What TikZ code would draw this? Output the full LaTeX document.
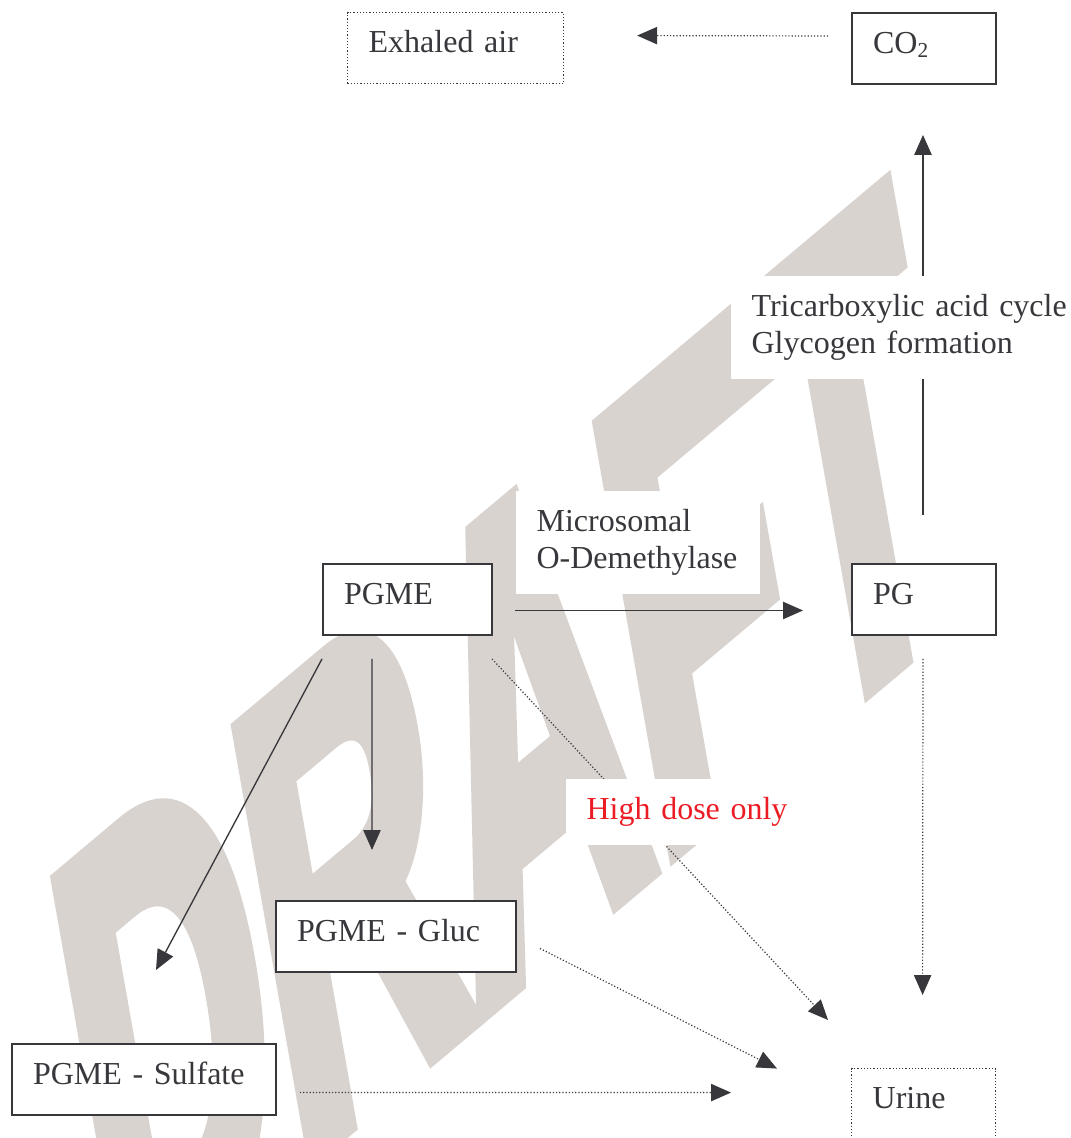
\documentclass[tikz,border=0pt]{standalone}
\usepackage{fontspec}
\setmainfont{Liberation Serif}
\newfontfamily\wmfont{Liberation Sans}[BoldFont={Liberation Sans Bold},BoldFeatures={FakeBold=5}]
\usetikzlibrary{arrows.meta}
\definecolor{ink}{RGB}{55,55,60}
\definecolor{wmgray}{RGB}{217,211,208}
\definecolor{hired}{RGB}{236,28,36}

\begin{document}
\begin{tikzpicture}[x=0.375pt,y=-0.375pt,
  every node/.style={font=\fontsize{12}{13.9}\selectfont,text=ink},
  >={Triangle[length=7.5pt,width=6.5pt]},
  box/.style={draw=ink,line width=0.75pt,fill=white,anchor=north west,
    inner xsep=7.9pt,inner ysep=0pt,text height=15pt,text depth=11.6pt,align=left},
  dotbox/.style={box,line width=0.45pt,dash pattern=on 0.45pt off 0.75pt},
  lbl/.style={fill=white,anchor=north west,inner xsep=7.9pt,inner ysep=7pt,align=left},
  flow/.style={->,draw=ink,line width=0.5pt},
  dotflow/.style={flow,line width=0.45pt,dash pattern=on 0.45pt off 0.75pt}]

\path[use as bounding box,fill=white] (0,0) rectangle (1071,1138);

% watermark
\begin{scope}[shift={(115,1316)}]
\node[cm={0.938,0.788,-0.400,2.266,(0,0)},transform shape,anchor=base west,inner sep=0pt,
  text=wmgray,font=\wmfont\bfseries\fontsize{100}{100}\selectfont] (wm) at (0,0) {DRAFT};
\end{scope}

\node[dotbox,text width=65.2pt] (air) at (347,12) {Exhaled air};
\node[box,text width=38.2pt] (co2) at (851,12) {CO\textsubscript{2}};
\node[box,text width=47.6pt] (pgme) at (322,563) {PGME};
\node[box,text width=38.2pt] (pg) at (851,563) {PG};
\node[box,text width=74.2pt] (gluc) at (275,900) {PGME - Gluc};
\node[box,text width=83.2pt] (sulf) at (11,1043) {PGME - Sulfate};
\node[dotbox,text width=38.2pt] (urine) at (851,1068) {Urine};

\draw[dotflow] ([shift={(-23,-12.5)}]co2.west) -- ([shift={(73,-12.5)}]air.east);
\draw[flow] ([shift={(-1,-48)}]pg.north) -- ([shift={(-1,50)}]co2.south);
\draw[flow] ([shift={(22,11)}]pgme.east) -- ([shift={(-48,11)}]pg.west);
\draw[flow] ([shift={(0,23)}]pgme.south west) -- ([shift={(12,-73)}]sulf.north);
\draw[flow] ([shift={(-35.5,23)}]pgme.south) -- ([shift={(-24,-50)}]gluc.north);
\draw[dotflow] ([shift={(-1,23)}]pgme.south east) -- ([shift={(-23,-48)}]urine.north west);
\draw[dotflow] ([shift={(-1,23)}]pg.south) -- ([shift={(-1,-73)}]urine.north);
\draw[dotflow] ([shift={(23,12)}]gluc.east) -- ([shift={(-74,-35.5)}]urine.west);
\draw[dotflow] ([shift={(23,13)}]sulf.east) -- ([shift={(-120,-11.5)}]urine.west);

\node[lbl,text width=120pt] (tca) at (730,275) {Tricarboxylic acid cycle\\Glycogen formation};
\node[lbl,text width=76pt] (mod) at (515,490) {Microsomal\\O-Demethylase};
\node[lbl,text width=82pt,text=hired] (hd) at (565,778) {High dose only};

\end{tikzpicture}
\end{document}
